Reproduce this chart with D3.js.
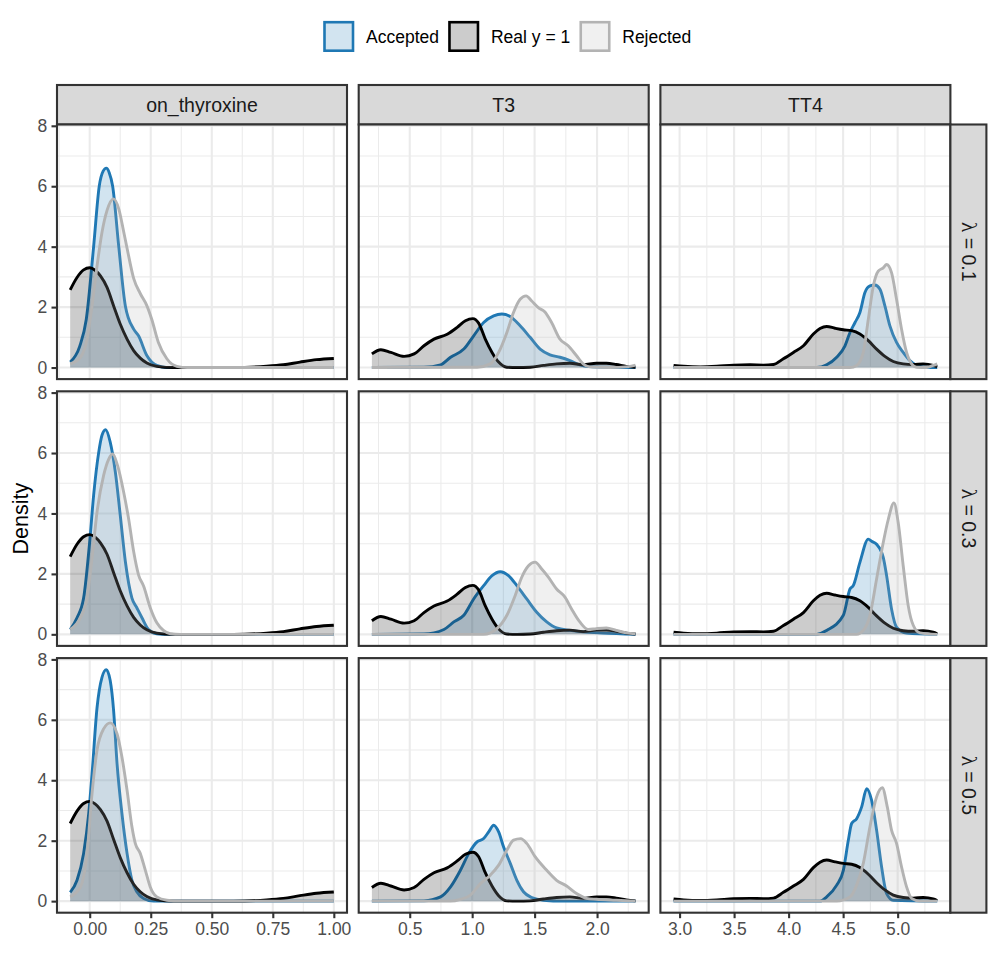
<!DOCTYPE html>
<html>
<head>
<meta charset="utf-8">
<script src="https://cdn.jsdelivr.net/npm/d3@7"></script>
<style>
  body { margin: 0; background: #fff; }
  svg { display: block; }
</style>
</head>
<body>
<svg id="chart" width="996" height="976"></svg>
<script>
// ---- data ----
const variables = ["on_thyroxine", "T3", "TT4"];
const lambdas = ["0.1", "0.3", "0.5"];
const groups = ["Accepted", "Real y = 1", "Rejected"];

const xTicksThyrox = [0, 0.25, 0.5, 0.75, 1.0];
const xTicksT3 = [0.5, 1.0, 1.5, 2.0];
const xTicksTT4 = [3.0, 3.5, 4.0, 4.5, 5.0];
const yTicks = [0, 2, 4, 6, 8];

// Real y = 1 is the same in every row
const realThyrox = [[-0.08,2.57],[-0.052,2.98],[-0.025,3.23],[0.0,3.30],[0.022,3.22],[0.044,3.03],[0.071,2.65],[0.098,2.04],[0.125,1.44],[0.153,0.94],[0.18,0.56],[0.207,0.31],[0.234,0.15],[0.275,0.04],[0.343,0],[0.589,0],[0.725,0.04],[0.793,0.09],[0.861,0.18],[0.929,0.26],[1.0,0.30]];
const realT3 = [[0.197,0.45],[0.269,0.59],[0.349,0.5],[0.455,0.37],[0.535,0.45],[0.614,0.72],[0.694,0.94],[0.8,1.1],[0.88,1.33],[0.946,1.55],[1.005,1.62],[1.052,1.47],[1.105,0.94],[1.159,0.5],[1.212,0.18],[1.278,0.01],[1.358,0],[1.464,0.01],[1.571,0.07],[1.676,0.12],[1.783,0.14],[1.889,0.09],[1.995,0.14],[2.075,0.14],[2.154,0.1],[2.234,0.04],[2.308,0.01]];
const realTT4 = [[2.945,0.07],[3.037,0.04],[3.189,0.02],[3.342,0.04],[3.494,0.08],[3.647,0.09],[3.769,0.08],[3.861,0.1],[3.952,0.29],[4.044,0.5],[4.136,0.72],[4.227,1.11],[4.288,1.29],[4.349,1.36],[4.426,1.3],[4.502,1.25],[4.578,1.22],[4.654,1.11],[4.731,0.89],[4.807,0.61],[4.883,0.37],[4.96,0.2],[5.051,0.12],[5.143,0.1],[5.234,0.12],[5.326,0.07],[5.363,0.02]];

// on_thyroxine
const accThyrox01 = [[-0.08,0.18],[-0.041,0.7],[-0.014,1.6],[0.016,4.0],[0.039,6.0],[0.055,6.5],[0.068,6.6],[0.08,6.45],[0.094,6.0],[0.119,4.0],[0.146,2.04],[0.18,1.27],[0.2,1.05],[0.234,0.4],[0.275,0.07],[0.316,0],[1.0,0]];
const rejThyrox01 = [[-0.08,0.12],[-0.038,0.34],[-0.011,0.94],[0.0095,2.04],[0.03,3.36],[0.05,4.46],[0.071,5.2],[0.098,5.58],[0.119,5.25],[0.139,4.5],[0.153,3.95],[0.18,2.95],[0.207,2.45],[0.234,2.05],[0.254,1.6],[0.281,0.84],[0.316,0.29],[0.357,0.04],[0.4,0],[1.0,0]];
const accThyrox03 = [[-0.08,0.16],[-0.052,0.55],[-0.025,1.2],[0,3.07],[0.016,4.6],[0.037,6.03],[0.05,6.58],[0.065,6.77],[0.084,6.36],[0.105,5.37],[0.125,3.95],[0.146,2.41],[0.173,1.2],[0.193,0.88],[0.214,0.55],[0.241,0.16],[0.275,0.02],[0.316,0],[1.0,0]];
const rejThyrox03 = [[-0.08,0.16],[-0.038,0.55],[-0.011,1.2],[0.0095,2.52],[0.03,4.05],[0.057,5.26],[0.078,5.8],[0.094,5.97],[0.114,5.59],[0.139,4.71],[0.159,3.84],[0.18,2.74],[0.2,1.97],[0.221,1.59],[0.248,0.88],[0.275,0.38],[0.302,0.13],[0.33,0.02],[0.371,0],[1.0,0]];
const accThyrox05 = [[-0.08,0.29],[-0.052,0.69],[-0.025,1.58],[-0.004,2.9],[0.0095,4.2],[0.03,6.4],[0.05,7.4],[0.068,7.66],[0.084,7.3],[0.098,6.3],[0.112,4.55],[0.132,2.9],[0.153,1.58],[0.173,0.69],[0.193,0.31],[0.221,0.09],[0.262,0],[1.0,0]];
const rejThyrox05 = [[-0.08,0.14],[-0.038,0.47],[-0.011,1.58],[0.0095,3.56],[0.03,5.0],[0.057,5.7],[0.084,5.9],[0.112,5.54],[0.132,4.77],[0.153,3.67],[0.173,2.46],[0.187,1.9],[0.207,1.58],[0.228,1.02],[0.248,0.47],[0.275,0.14],[0.316,0.03],[0.371,0],[1.0,0]];

// T3
const accT3_01 = [[0.197,0],[0.614,0.01],[0.747,0.09],[0.827,0.34],[0.933,0.61],[1.012,1.05],[1.092,1.49],[1.172,1.71],[1.238,1.77],[1.305,1.69],[1.384,1.38],[1.464,1.0],[1.544,0.61],[1.623,0.42],[1.703,0.34],[1.783,0.23],[1.862,0.09],[1.942,0.03],[2.101,0.01],[2.308,0]];
const rejT3_01 = [[0.197,0],[1.039,0.01],[1.145,0.12],[1.212,0.5],[1.278,1.16],[1.331,1.82],[1.384,2.26],[1.432,2.37],[1.477,2.2],[1.53,1.98],[1.583,1.84],[1.636,1.49],[1.703,0.94],[1.769,0.72],[1.836,0.39],[1.889,0.12],[1.942,0.02],[2.101,0],[2.25,0.03],[2.308,0.08]];
const accT3_03 = [[0.197,0],[0.614,0.01],[0.774,0.16],[0.853,0.41],[0.933,0.63],[1.012,1.17],[1.092,1.61],[1.159,1.94],[1.225,2.07],[1.291,1.94],[1.358,1.61],[1.437,1.17],[1.517,0.73],[1.597,0.41],[1.676,0.21],[1.783,0.13],[1.889,0.08],[2.048,0.04],[2.308,0]];
const rejT3_03 = [[0.197,0],[1.092,0],[1.198,0.19],[1.278,0.63],[1.344,1.28],[1.397,1.89],[1.451,2.27],[1.504,2.39],[1.557,2.16],[1.61,1.89],[1.676,1.5],[1.743,1.23],[1.796,0.84],[1.862,0.41],[1.929,0.16],[1.995,0.19],[2.075,0.21],[2.154,0.13],[2.234,0.05],[2.308,0.02]];
const accT3_05 = [[0.197,0],[0.614,0.01],[0.747,0.14],[0.827,0.47],[0.906,1.02],[0.973,1.58],[1.039,1.96],[1.092,2.07],[1.132,2.29],[1.172,2.51],[1.212,2.29],[1.251,1.8],[1.305,1.25],[1.358,0.69],[1.411,0.31],[1.477,0.12],[1.57,0.03],[1.729,0],[2.308,0]];
const rejT3_05 = [[0.197,0],[0.827,0],[0.906,0.06],[0.986,0.2],[1.066,0.58],[1.145,0.86],[1.212,1.19],[1.278,1.69],[1.331,2.02],[1.389,2.07],[1.437,1.91],[1.504,1.47],[1.597,1.02],[1.676,0.69],[1.756,0.5],[1.836,0.25],[1.915,0.09],[1.995,0.06],[2.154,0.03],[2.308,0]];

// TT4
const accTT4_01 = [[2.945,0],[4.258,0],[4.349,0.09],[4.441,0.34],[4.517,0.72],[4.563,1.16],[4.609,1.49],[4.654,1.82],[4.7,2.48],[4.746,2.7],[4.792,2.73],[4.838,2.59],[4.883,2.04],[4.929,1.38],[4.99,0.83],[5.051,0.5],[5.112,0.23],[5.173,0.07],[5.265,0.01],[5.363,0]];
const rejTT4_01 = [[2.945,0],[4.563,0],[4.624,0.07],[4.685,0.5],[4.731,1.6],[4.777,2.7],[4.822,3.19],[4.868,3.3],[4.899,3.41],[4.944,3.14],[4.99,2.26],[5.036,1.27],[5.082,0.5],[5.128,0.12],[5.173,0.01],[5.265,0],[5.326,0.07],[5.363,0.12]];
const accTT4_03 = [[2.945,0],[4.258,0],[4.349,0.13],[4.502,0.63],[4.563,1.5],[4.593,1.61],[4.654,2.38],[4.731,3.15],[4.761,3.08],[4.807,2.98],[4.868,2.55],[4.899,1.94],[4.944,0.84],[4.99,0.24],[5.082,0.04],[5.363,0]];
const rejTT4_03 = [[2.945,0],[4.624,0],[4.685,0.13],[4.746,0.63],[4.807,1.83],[4.868,3.04],[4.914,3.8],[4.966,4.35],[5.005,3.7],[5.051,2.27],[5.097,0.95],[5.143,0.3],[5.204,0.05],[5.363,0]];
const accTT4_05 = [[2.945,0],[4.288,0],[4.349,0.14],[4.441,0.53],[4.502,1.02],[4.548,2.02],[4.578,2.57],[4.624,2.73],[4.67,3.12],[4.716,3.72],[4.761,3.34],[4.807,2.35],[4.853,1.13],[4.899,0.25],[4.96,0.03],[5.363,0]];
const rejTT4_05 = [[2.945,0],[4.441,0],[4.563,0.14],[4.624,0.53],[4.685,1.25],[4.746,2.46],[4.807,3.45],[4.859,3.75],[4.905,3.12],[4.944,2.35],[4.99,1.91],[5.036,1.13],[5.082,0.47],[5.128,0.09],[5.204,0],[5.363,0]];

// table used to build the facets
const columns = [
  { name: variables[0], ticks: xTicksThyrox, fmt: d3.format(".2f"), real: realThyrox,
    acc: [accThyrox01, accThyrox03, accThyrox05], rej: [rejThyrox01, rejThyrox03, rejThyrox05] },
  { name: variables[1], ticks: xTicksT3, fmt: d3.format(".1f"), real: realT3,
    acc: [accT3_01, accT3_03, accT3_05], rej: [rejT3_01, rejT3_03, rejT3_05] },
  { name: variables[2], ticks: xTicksTT4, fmt: d3.format(".1f"), real: realTT4,
    acc: [accTT4_01, accTT4_03, accTT4_05], rej: [rejTT4_01, rejTT4_03, rejTT4_05] }
];

const styles = {
  "Accepted":   { stroke: "#1F78B4", fill: "rgba(31,120,180,0.2)" },
  "Real y = 1": { stroke: "#000000", fill: "rgba(0,0,0,0.2)" },
  "Rejected":   { stroke: "#B3B3B3", fill: "rgba(179,179,179,0.2)" }
};

// ---- layout ----
const panelLeft = 57, panelW = 290, colGap = 11.7;
const panelTop = 124.5, panelH = 254.6, rowGap = 12.2;
const stripH = 39.5, stripW = 36;
const lineW = 2.1, gridMinor = 1.05, tickLen = 5.5;
const font = "'Liberation Sans', Arial, Helvetica, sans-serif";

const svg = d3.select("#chart");

const expand = ([lo, hi]) => { const p = (hi - lo) * 0.05; return [lo - p, hi + p]; };

const allY = columns.flatMap(c => [c.real, ...c.acc, ...c.rej]).flat().map(d => d[1]);
const yMax = d3.max(allY);
const yDomain = expand([0, yMax]);

function minorsOf(ticks, domain) {
  const step = ticks[1] - ticks[0];
  const out = [];
  for (let v = ticks[0] - step / 2; v <= domain[1]; v += step) {
    if (v >= domain[0]) out.push(v);
  }
  return out;
}

const area = (x, y) => d3.area().x(d => x(d[0])).y0(y(0)).y1(d => y(d[1])).curve(d3.curveMonotoneX);
const line = (x, y) => d3.line().x(d => x(d[0])).y(d => y(d[1])).curve(d3.curveMonotoneX);

columns.forEach((col, ci) => {
  const x0 = panelLeft + ci * (panelW + colGap);
  const all = [col.real, ...col.acc, ...col.rej].flat().map(d => d[0]);
  const x = d3.scaleLinear().domain(expand(d3.extent(all))).range([x0, x0 + panelW]);
  const xMinor = minorsOf(col.ticks, x.domain());

  // top strip
  svg.append("rect")
    .attr("x", x0).attr("y", panelTop - stripH)
    .attr("width", panelW).attr("height", stripH)
    .attr("fill", "#D9D9D9").attr("stroke", "#333333").attr("stroke-width", lineW);
  svg.append("text")
    .attr("x", x0 + panelW / 2).attr("y", panelTop - stripH / 2)
    .attr("dy", "0.35em").attr("text-anchor", "middle")
    .attr("font-family", font).attr("font-size", 19.5).attr("fill", "#1A1A1A")
    .text(col.name);

  lambdas.forEach((lam, ri) => {
    const y0 = panelTop + ri * (panelH + rowGap);
    const y = d3.scaleLinear().domain(yDomain).range([y0 + panelH, y0]);
    const g = svg.append("g");

    g.append("rect").attr("x", x0).attr("y", y0).attr("width", panelW).attr("height", panelH).attr("fill", "#fff");

    // grid
    const grid = g.append("g").attr("stroke", "#EBEBEB");
    grid.selectAll("line.ymin").data([1, 3, 5, 7]).join("line")
      .attr("x1", x0).attr("x2", x0 + panelW).attr("y1", d => y(d)).attr("y2", d => y(d)).attr("stroke-width", gridMinor);
    grid.selectAll("line.xmin").data(xMinor).join("line")
      .attr("y1", y0).attr("y2", y0 + panelH).attr("x1", d => x(d)).attr("x2", d => x(d)).attr("stroke-width", gridMinor);
    grid.selectAll("line.ymaj").data(yTicks).join("line")
      .attr("x1", x0).attr("x2", x0 + panelW).attr("y1", d => y(d)).attr("y2", d => y(d)).attr("stroke-width", lineW);
    grid.selectAll("line.xmaj").data(col.ticks).join("line")
      .attr("y1", y0).attr("y2", y0 + panelH).attr("x1", d => x(d)).attr("x2", d => x(d)).attr("stroke-width", lineW);

    // densities: draw order Accepted, Real, Rejected
    const series = [
      ["Accepted", col.acc[ri]],
      ["Real y = 1", col.real],
      ["Rejected", col.rej[ri]]
    ];
    const clipId = `clip-${ci}-${ri}`;
    g.append("clipPath").attr("id", clipId).append("rect")
      .attr("x", x0).attr("y", y0).attr("width", panelW).attr("height", panelH);
    const marks = g.append("g").attr("clip-path", `url(#${clipId})`);
    series.forEach(([name, data]) => {
      marks.append("path").attr("d", area(x, y)(data)).attr("fill", styles[name].fill);
      marks.append("path").attr("d", line(x, y)(data))
        .attr("fill", "none").attr("stroke", styles[name].stroke)
        .attr("stroke-width", 2.9).attr("stroke-linejoin", "round");
    });

    // border
    g.append("rect").attr("x", x0).attr("y", y0).attr("width", panelW).attr("height", panelH)
      .attr("fill", "none").attr("stroke", "#333333").attr("stroke-width", lineW);

    // y axis on first column
    if (ci === 0) {
      const ax = svg.append("g").attr("transform", `translate(${x0},0)`)
        .call(d3.axisLeft(y).tickValues(yTicks).tickSize(tickLen).tickPadding(4.4).tickFormat(d3.format("d")));
      ax.select(".domain").remove();
      ax.selectAll(".tick line").attr("stroke", "#333333").attr("stroke-width", lineW);
      ax.selectAll(".tick text").attr("fill", "#4D4D4D").attr("font-family", font).attr("font-size", 17.5);
    }
    // x axis on bottom row
    if (ri === lambdas.length - 1) {
      const ax = svg.append("g").attr("transform", `translate(0,${y0 + panelH})`)
        .call(d3.axisBottom(x).tickValues(col.ticks).tickSize(tickLen).tickPadding(4.4).tickFormat(col.fmt));
      ax.select(".domain").remove();
      ax.selectAll(".tick line").attr("stroke", "#333333").attr("stroke-width", lineW);
      ax.selectAll(".tick text").attr("fill", "#4D4D4D").attr("font-family", font).attr("font-size", 17.5);
    }

    // right strips
    if (ci === columns.length - 1) {
      const sx = x0 + panelW;
      svg.append("rect").attr("x", sx).attr("y", y0).attr("width", stripW).attr("height", panelH)
        .attr("fill", "#D9D9D9").attr("stroke", "#333333").attr("stroke-width", lineW);
      const t = svg.append("text")
        .attr("transform", `translate(${sx + stripW / 2},${y0 + panelH / 2}) rotate(90)`)
        .attr("text-anchor", "middle").attr("dy", "0.35em")
        .attr("font-family", font).attr("font-size", 19.5).attr("fill", "#1A1A1A");
      t.append("tspan").attr("font-family", "'Liberation Serif', 'DejaVu Serif', serif").attr("font-size", 21).text("λ");
      t.append("tspan").text(" = " + lam);
    }
  });
});

// y axis title
svg.append("text")
  .attr("transform", `translate(20,${panelTop + (3 * panelH + 2 * rowGap) / 2}) rotate(-90)`)
  .attr("text-anchor", "middle").attr("dy", "0.35em")
  .attr("font-family", font).attr("font-size", 21.5).attr("fill", "#000")
  .text("Density");

// legend
const legend = svg.append("g");
let lx = 324.5;
const keyS = 28.5, keyY = 22.2;
groups.forEach(name => {
  legend.append("rect").attr("x", lx).attr("y", keyY).attr("width", keyS).attr("height", keyS)
    .attr("fill", styles[name].fill).attr("stroke", styles[name].stroke).attr("stroke-width", 2.6);
  const t = legend.append("text").attr("x", lx + keyS + 13).attr("y", keyY + keyS / 2).attr("dy", "0.35em")
    .attr("font-family", font).attr("font-size", 17.5).attr("fill", "#000").text(name);
  lx += keyS + 13 + t.node().getComputedTextLength() + 10.5;
});
</script>
</body>
</html>
